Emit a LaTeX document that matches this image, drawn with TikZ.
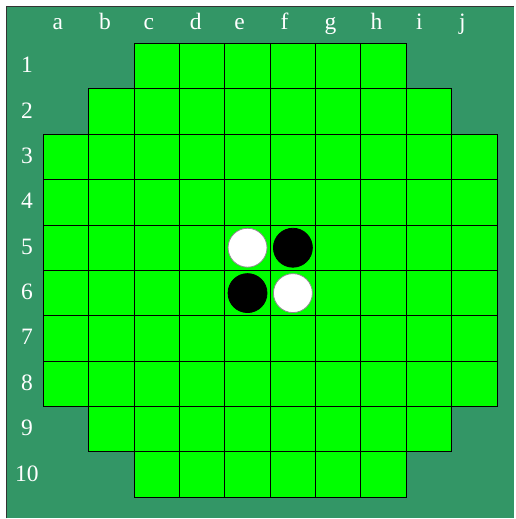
\documentclass[tikz,border=0pt]{standalone}
\usepackage{fontspec}
\setmainfont{Liberation Serif}
\definecolor{bggreen}{RGB}{51,150,102}
\definecolor{cellgreen}{RGB}{0,255,0}
\begin{document}
\begin{tikzpicture}[x=1pt,y=-1pt,
  cellbox/.style={fill=cellgreen,draw=black,line width=1pt},
  lbl/.style={text=white,font=\fontsize{23.5}{28}\selectfont,inner sep=0pt,anchor=base},
  whitedisc/.style={circle,fill=white,draw=black!45,line width=0.8pt,minimum size=39pt,inner sep=0pt},
  blackdisc/.style={circle,fill=black,draw=black,line width=0.8pt,minimum size=39pt,inner sep=0pt}]
\fill[white] (0,0) rectangle (515,519);
\fill[bggreen] (7,7) rectangle (515,519);
\draw[black!80,line width=1.3pt] (6.6,519) -- (6.6,6.6) -- (515,6.6);
\useasboundingbox (0,0) rectangle (515,519);
\def\cs{45.43}
\foreach \r/\a/\b in {1/2/7,2/1/8,3/0/9,4/0/9,5/0/9,6/0/9,7/0/9,8/0/9,9/1/8,10/2/7}{
  \foreach \c in {\a,...,\b}{
    \draw[cellbox] ({43.4+\c*\cs},{43.6+(\r-1)*\cs}) rectangle +(\cs,\cs);
  }
}
% discs
\node[whitedisc] (e5) at ({43.4+4.5*\cs},{43.6+4.5*\cs}) {};
\node[blackdisc] (f5) at ({43.4+5.5*\cs},{43.6+4.5*\cs}) {};
\node[blackdisc] (e6) at ({43.4+4.5*\cs},{43.6+5.5*\cs}) {};
\node[whitedisc] (f6) at ({43.4+5.5*\cs},{43.6+5.5*\cs}) {};
% column labels
\foreach \t/\x in {a/58,b/105,c/149,d/196,e/240,f/285,g/331,h/377,i/420,j/463}{
  \node[lbl] (col\t) at (\x,29.5) {\t};
}
% row labels
\foreach \n in {1,...,10}{
  \node[lbl] (row\n) at (27,{43.6+(\n-0.5)*\cs+6.5}) {\n};
}
\end{tikzpicture}
\end{document}
